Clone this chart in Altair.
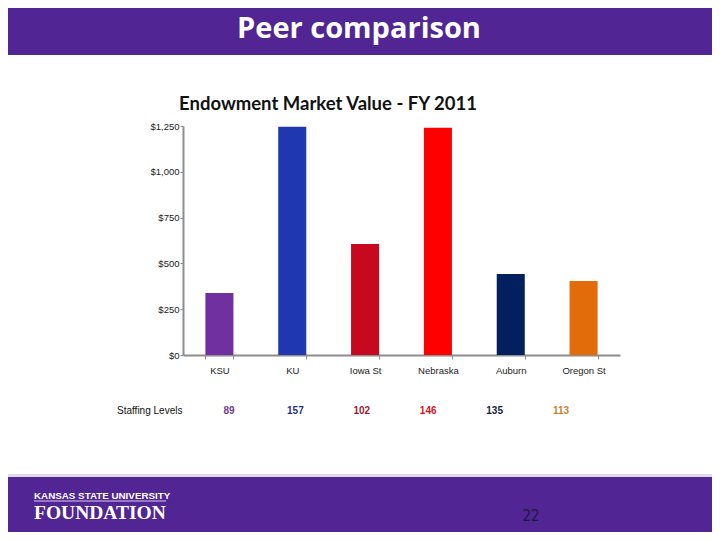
import altair as alt
import pandas as pd

# ---- data ----
schools = ["KSU", "KU", "Iowa St", "Nebraska", "Auburn", "Oregon St"]
endowment = [338, 1246, 606, 1241, 442, 404]          # $ millions
staffing = [89, 157, 102, 146, 135, 113]
y_ticks = [0, 250, 500, 750, 1000, 1250]

bar_colors = ["#7030A0", "#1F38B0", "#C8081E", "#FF0000", "#03205E", "#E36C0A"]
staff_colors = ["#6E3D8C", "#1F3583", "#9C1A33", "#D4141C", "#16223F", "#C48236"]

df = pd.DataFrame({"school": schools, "value": endowment, "staff": staffing})
one = pd.DataFrame({"k": [0]})

PURPLE = "#512593"
AX = "#8c8c8c"
SANS = "Liberation Sans"

# ---- decorations (slide header / footer) ----
header = alt.Chart(one).mark_rect(color=PURPLE).encode(
    x=alt.value(-175), x2=alt.value(529), y=alt.value(-118), y2=alt.value(-71))
footer_line = alt.Chart(one).mark_rect(color="#E4D9F2").encode(
    x=alt.value(-175), x2=alt.value(529), y=alt.value(348), y2=alt.value(351))
footer = alt.Chart(one).mark_rect(color=PURPLE).encode(
    x=alt.value(-175), x2=alt.value(529), y=alt.value(351), y2=alt.value(406))

head_text = alt.Chart(one).mark_text(
    text="Peer comparison", font="Open Sans", fontWeight="bold", fontSize=29,
    color="white", align="center", baseline="alphabetic").encode(
    x=alt.value(176), y=alt.value(-88))

title_text = alt.Chart(one).mark_text(
    text="Endowment Market Value - FY 2011", font="Lato", fontWeight="bold",
    fontSize=18.5, color="#111111", align="center", baseline="middle").encode(
    x=alt.value(145), y=alt.value(-22))

staff_label = alt.Chart(one).mark_text(
    text="Staffing Levels", font=SANS, fontSize=10, color="#111111",
    align="left", baseline="middle").encode(x=alt.value(-66), y=alt.value(285))

logo1 = alt.Chart(one).mark_text(
    text="KANSAS STATE UNIVERSITY", font=SANS, fontWeight="bold", fontSize=9.8,
    color="white", align="left", baseline="middle").encode(
    x=alt.value(-149), y=alt.value(370))
logo_rule = alt.Chart(one).mark_rule(color="#d8ccee", strokeWidth=1).encode(
    x=alt.value(-149), x2=alt.value(-17), y=alt.value(375))
logo2 = alt.Chart(one).mark_text(
    text="FOUNDATION", font="Liberation Serif", fontWeight="bold", fontSize=19.5,
    color="white", align="left", baseline="middle").encode(
    x=alt.value(-149), y=alt.value(387))
page_no = alt.Chart(one).mark_text(
    text="22", font="DejaVu Sans Condensed", fontSize=15, color="#1a1a3a",
    align="center", baseline="middle").encode(x=alt.value(348), y=alt.value(390))

# ---- bars ----
bars = alt.Chart(df).mark_bar().encode(
    x=alt.X("school:N", sort=schools,
            scale=alt.Scale(paddingInner=0.615, paddingOuter=0.3075),
            axis=alt.Axis(title=None, labelAngle=0, tickBand="extent",
                          domainColor=AX, domainWidth=2, tickColor=AX,
                          tickSize=4, tickWidth=1, labelPadding=6,
                          labelFont=SANS, labelFontSize=9.5, labelColor="#222222")),
    y=alt.Y("value:Q", scale=alt.Scale(domain=[0, 1250], nice=False),
            axis=alt.Axis(title=None, values=y_ticks, format="$,.0f", grid=False,
                          domainColor=AX, domainWidth=2, tickColor=AX, tickSize=3,
                          labelPadding=1, labelFont=SANS, labelFontSize=9.5,
                          labelColor="#222222")),
    color=alt.Color("school:N", scale=alt.Scale(domain=schools, range=bar_colors),
                    legend=None),
)

staff = alt.Chart(df).mark_text(
    font=SANS, fontWeight="bold", fontSize=10, baseline="middle").encode(
    x=alt.X("school:N", sort=schools,
            scale=alt.Scale(range=[12.8, 411.2], paddingInner=0, paddingOuter=0),
            axis=None),
    y=alt.value(285),
    text="staff:Q",
    color=alt.Color("school:N", scale=alt.Scale(domain=schools, range=staff_colors),
                    legend=None),
)

chart = alt.layer(
    header, footer_line, footer, bars, staff,
    head_text, title_text, staff_label, logo1, logo_rule, logo2, page_no,
).resolve_scale(x="independent", color="independent").properties(
    width=437, height=229,
    padding={"left": 175, "top": 118, "right": 92, "bottom": 177},
    autosize=alt.AutoSizeParams(type="none"),
    background="white",
).configure_view(stroke=None)

chart.save("out.html", embed_options={"renderer": "svg", "actions": False})
